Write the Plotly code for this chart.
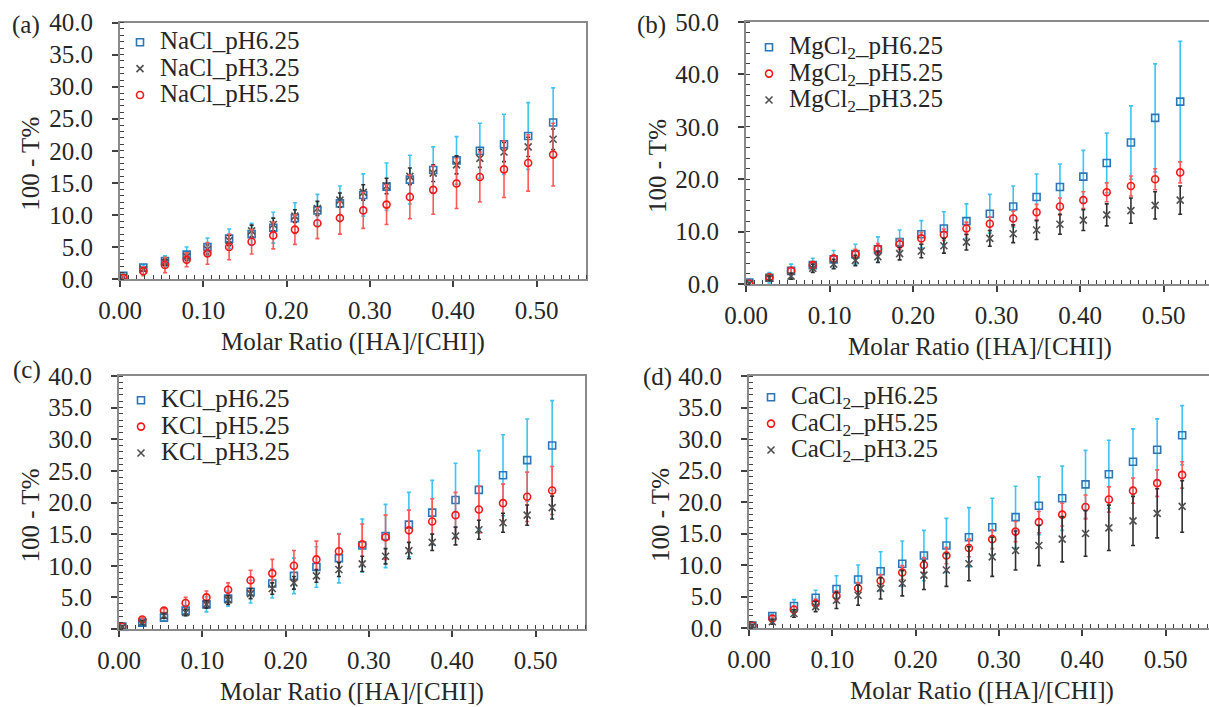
import plotly.graph_objects as go

# molar ratio [HA]/[CHI], shared by all panels
ratio = [0.004, 0.028, 0.054, 0.080, 0.105, 0.131, 0.158, 0.184, 0.210, 0.237,
         0.264, 0.292, 0.320, 0.348, 0.376, 0.404, 0.432, 0.461, 0.490, 0.520]

# (a) NaCl
nacl_62 = [0.5, 1.8, 2.8, 3.8, 5.0, 6.3, 7.0, 8.0, 9.5, 10.7, 11.8, 13.1, 14.4, 15.5, 17.0, 18.5, 20.0, 21.0, 22.3, 24.4]
nacl_62_err = [0.3, 0.4, 0.8, 1.2, 1.4, 1.5, 1.7, 2.4, 2.4, 2.5, 2.7, 3.3, 3.7, 3.8, 3.6, 3.7, 4.3, 4.7, 5.2, 5.4]
nacl_32 = [0.3, 1.5, 2.6, 3.5, 4.6, 6.0, 7.5, 8.5, 9.8, 11.0, 12.3, 13.5, 14.5, 16.0, 16.5, 17.8, 18.8, 19.8, 20.6, 21.8]
nacl_32_err = [0.2, 0.3, 0.5, 0.6, 0.7, 0.8, 0.9, 1.0, 1.0, 1.1, 1.1, 1.2, 1.2, 1.3, 1.3, 1.4, 1.4, 1.5, 1.5, 1.6]
nacl_52 = [0.2, 1.2, 2.2, 3.0, 4.0, 5.0, 5.8, 6.8, 7.7, 8.7, 9.5, 10.7, 11.6, 12.8, 13.9, 14.9, 15.9, 17.1, 18.1, 19.4]
nacl_52_err = [0.3, 0.7, 1.2, 1.1, 1.7, 2.0, 1.9, 2.1, 2.3, 2.4, 2.5, 2.8, 3.1, 3.4, 3.8, 3.9, 3.9, 4.4, 4.4, 4.9]

# (b) MgCl2
mgcl_62 = [0.3, 1.2, 2.5, 3.6, 4.7, 5.7, 6.6, 8.0, 9.5, 10.6, 12.0, 13.4, 14.8, 16.6, 18.5, 20.5, 23.1, 27.0, 31.7, 34.8]
mgcl_62_err = [0.5, 1.0, 1.3, 1.3, 1.7, 1.9, 2.4, 2.3, 2.6, 3.2, 3.3, 3.7, 3.9, 4.4, 4.4, 5.0, 5.7, 7.0, 10.3, 11.5]
mgcl_52 = [0.1, 1.3, 2.5, 3.6, 4.8, 5.7, 6.7, 7.6, 8.7, 9.4, 10.6, 11.5, 12.5, 13.7, 14.8, 16.0, 17.5, 18.7, 20.0, 21.3]
mgcl_52_err = [0.2, 0.4, 0.6, 0.7, 0.8, 0.9, 1.0, 1.0, 1.1, 1.1, 1.2, 1.3, 1.4, 1.5, 1.6, 1.6, 1.8, 1.9, 2.0, 2.0]
mgcl_32 = [0.1, 1.1, 1.5, 3.0, 3.8, 4.5, 5.2, 5.8, 6.3, 7.3, 8.0, 8.7, 9.6, 10.3, 11.4, 12.2, 13.2, 14.0, 15.0, 16.0]
mgcl_32_err = [0.2, 0.4, 0.6, 0.8, 0.9, 1.0, 1.1, 1.2, 1.3, 1.4, 1.5, 1.5, 1.7, 1.8, 1.9, 2.0, 2.1, 2.4, 2.6, 2.7]

# (c) KCl
kcl_62 = [0.4, 1.0, 1.8, 2.9, 3.9, 4.8, 5.9, 7.2, 8.4, 9.8, 11.2, 13.2, 14.7, 16.5, 18.4, 20.4, 22.0, 24.3, 26.7, 29.0]
kcl_62_err = [0.2, 0.4, 0.5, 0.8, 1.2, 1.2, 1.8, 2.3, 2.8, 3.2, 3.9, 4.2, 5.0, 5.1, 5.1, 5.8, 6.2, 6.4, 6.5, 7.1]
kcl_52 = [0.4, 1.5, 2.9, 4.1, 5.0, 6.2, 7.7, 8.8, 10.0, 11.0, 12.3, 13.4, 14.5, 15.6, 17.0, 18.0, 18.9, 19.9, 20.9, 21.9]
kcl_52_err = [0.2, 0.3, 0.3, 0.9, 1.0, 1.1, 1.6, 2.2, 2.4, 2.9, 2.7, 3.2, 3.5, 3.2, 3.6, 3.6, 3.7, 3.0, 3.9, 3.8]
kcl_32 = [0.3, 1.0, 2.1, 2.6, 3.9, 4.6, 5.6, 6.4, 7.3, 8.4, 9.4, 10.3, 11.5, 12.4, 13.7, 14.7, 15.7, 16.8, 18.0, 19.2]
kcl_32_err = [0.2, 0.3, 0.4, 0.5, 0.6, 0.7, 0.8, 0.9, 1.0, 1.0, 1.1, 1.2, 1.2, 1.3, 1.3, 1.4, 1.5, 1.5, 1.6, 1.8]

# (d) CaCl2
cacl_62 = [0.4, 1.9, 3.5, 4.8, 6.2, 7.7, 9.0, 10.2, 11.5, 13.1, 14.4, 16.0, 17.6, 19.4, 20.6, 22.8, 24.4, 26.4, 28.3, 30.6]
cacl_62_err = [0.3, 0.3, 1.0, 1.2, 2.1, 2.3, 3.1, 3.6, 4.0, 4.3, 4.7, 4.6, 4.9, 4.6, 5.1, 5.4, 5.4, 5.2, 4.9, 4.7]
cacl_52 = [0.4, 1.5, 2.9, 3.9, 5.1, 6.3, 7.5, 8.8, 10.0, 11.5, 12.7, 14.1, 15.3, 16.8, 18.0, 19.2, 20.4, 21.8, 23.0, 24.3]
cacl_52_err = [0.2, 0.4, 0.6, 0.7, 0.8, 0.9, 1.0, 1.1, 1.2, 1.3, 1.4, 1.5, 1.6, 1.7, 1.8, 1.9, 2.0, 2.0, 2.1, 2.1]
cacl_32 = [0.3, 1.0, 2.3, 3.4, 4.4, 5.2, 6.3, 7.1, 8.4, 9.2, 10.2, 11.3, 12.3, 13.1, 14.1, 15.0, 15.9, 17.0, 18.2, 19.3]
cacl_32_err = [0.2, 0.4, 0.6, 0.8, 1.3, 1.6, 1.7, 2.0, 2.3, 2.6, 2.7, 3.1, 3.1, 3.2, 3.6, 3.6, 3.6, 3.9, 3.9, 4.1]

FONT = "Liberation Serif, Times New Roman, serif"
TXT = "#262626"
FS = 25

# marker / error-bar style per pH
styles = {
    "6.25": dict(symbol="square-open", size=7, color="#2E75B6", err="#3FC4F2"),
    "5.25": dict(symbol="circle-open", size=7, color="#F01818", err="#FF5A5A"),
    "3.25": dict(symbol="x-thin-open", size=7, color="#505050", err="#303030"),
}

panels = [
    ("1", "legend", "NaCl", [("6.25", nacl_62, nacl_62_err), ("3.25", nacl_32, nacl_32_err), ("5.25", nacl_52, nacl_52_err)]),
    ("2", "legend2", "MgCl<sub>2</sub>", [("6.25", mgcl_62, mgcl_62_err), ("5.25", mgcl_52, mgcl_52_err), ("3.25", mgcl_32, mgcl_32_err)]),
    ("3", "legend3", "KCl", [("6.25", kcl_62, kcl_62_err), ("5.25", kcl_52, kcl_52_err), ("3.25", kcl_32, kcl_32_err)]),
    ("4", "legend4", "CaCl<sub>2</sub>", [("6.25", cacl_62, cacl_62_err), ("5.25", cacl_52, cacl_52_err), ("3.25", cacl_32, cacl_32_err)]),
]

fig = go.Figure()
for idx, leg, salt, series in panels:
    ax = "" if idx == "1" else idx
    for ph, vals, err in series:
        st = styles[ph]
        label = "<span style='font-size:%dpx'>%s_pH%s</span>" % (FS, salt, ph)
        fig.add_trace(go.Scatter(
            x=ratio, y=vals, mode="markers", name=label,
            xaxis="x" + ax, yaxis="y" + ax, legend=leg,
            marker=dict(symbol=st["symbol"], size=st["size"], color=st["color"],
                        line=dict(color=st["color"], width=1.6)),
            error_y=dict(type="data", array=err, color=st["err"], thickness=1.6, width=2),
        ))

W, H = 1209, 707
# pixel boxes of the four panels: left, top, bottom, px per unit ratio
boxes = {"1": (120, 22.5, 279, 833), "2": (746, 22, 284, 835),
         "3": (119, 376, 629, 833), "4": (749, 376, 628, 833)}
ymax = {"1": 40, "2": 50, "3": 40, "4": 40}
ydt = {"1": 5, "2": 10, "3": 5, "4": 5}
ymin_dt = {"1": 1, "2": 2, "3": 1, "4": 1}

tickfont = dict(family=FONT, size=FS, color=TXT)
layout = {}
annotations = []
for k, (l, t, b, sc) in boxes.items():
    ax = "" if k == "1" else k
    r = min(l + 0.56 * sc, W)
    layout["xaxis" + ax] = dict(
        domain=[l / W, r / W], anchor="y" + ax, range=[0, (r - l) / sc],
        dtick=0.1, tick0=0, tickformat=".2f", ticks="outside", ticklen=6, tickwidth=1.5,
        tickcolor="#404040", showline=True, linecolor="#8A8A8A", linewidth=2, mirror=True,
        showgrid=False, zeroline=False, tickfont=tickfont, ticklabelstandoff=2, automargin=False,
        minor=dict(dtick=0.01, ticks="inside", ticklen=4, tickcolor="#404040", tickwidth=1),
    )
    layout["yaxis" + ax] = dict(
        domain=[1 - b / H, 1 - t / H], anchor="x" + ax, range=[0, ymax[k]],
        dtick=ydt[k], tickformat=".1f", ticks="outside", ticklen=6, tickwidth=1.5,
        tickcolor="#404040", showline=True, linecolor="#8A8A8A", linewidth=2,
        mirror=(k in ("1", "3")), showgrid=False, zeroline=False, tickfont=tickfont,
        ticklabelstandoff=14, automargin=False,
        minor=dict(dtick=ymin_dt[k], ticks="inside", ticklen=4, tickcolor="#404040", tickwidth=1),
    )
    # axis titles
    cx = l + 0.28 * sc
    annotations.append(dict(text="Molar Ratio ([HA]/[CHI])", x=cx / W, y=1 - (b + 63) / H,
                            xanchor="center", yanchor="middle",
                            xref="paper", yref="paper", showarrow=False,
                            font=dict(family=FONT, size=FS, color=TXT)))
    annotations.append(dict(text="100 - T%", x=(l - 89) / W, y=1 - ((t + b) / 2 + 13) / H,
                            xanchor="center", yanchor="middle",
                            xref="paper", yref="paper", showarrow=False, textangle=-90,
                            font=dict(family=FONT, size=FS, color=TXT)))

legfont = dict(family=FONT, size=18, color=TXT)
legpos = {"legend": (120, 24), "legend2": (749, 29), "legend3": (121, 382), "legend4": (751, 379)}
for name, (lx, ly) in legpos.items():
    layout[name] = dict(x=lx / W, y=1 - ly / H, xanchor="left", yanchor="top",
                        bgcolor="rgba(0,0,0,0)", font=legfont, itemwidth=30,
                        tracegroupgap=0)

labels = [("(a)", 26, 25), ("(b)", 651, 25), ("(c)", 27, 370), ("(d)", 657, 377)]
for t, x, y in labels:
    annotations.append(dict(text=t, x=x / W, y=1 - y / H, xref="paper", yref="paper",
                            xanchor="center", yanchor="middle", showarrow=False,
                            font=dict(family=FONT, size=FS, color=TXT)))

fig.update_layout(
    width=W, height=H, margin=dict(l=0, r=0, t=0, b=0, autoexpand=False),
    paper_bgcolor="white", plot_bgcolor="white",
    annotations=annotations, showlegend=True, **layout,
)

fig.write_html("out.html", config={"displayModeBar": False},
               post_script="document.body.style.margin='0';document.body.style.overflow='hidden';")
